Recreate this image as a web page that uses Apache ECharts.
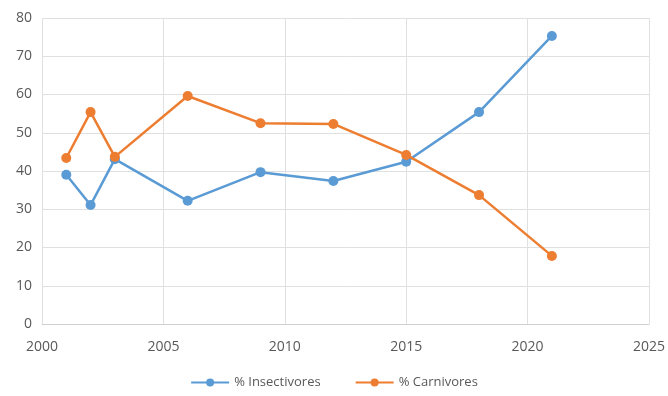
<!DOCTYPE html>
<html>
<head>
<meta charset="utf-8">
<script src="https://cdn.jsdelivr.net/npm/echarts@6/dist/echarts.min.js"></script>
<style>
html, body { margin: 0; padding: 0; background: #fff; }
#chart { width: 668px; height: 396px; }
</style>
</head>
<body>
<div id="chart"></div>
<script>
// years of each survey
const years = [2001, 2002, 2003, 2006, 2009, 2012, 2015, 2018, 2021];
const insectivores = [39.0, 31.1, 43.1, 32.2, 39.7, 37.4, 42.4, 55.4, 75.3];
const carnivores = [43.4, 55.4, 43.7, 59.6, 52.5, 52.3, 44.2, 33.7, 17.8];

const pairs = (xs, ys) => xs.map((x, i) => [x, ys[i]]);

const chart = echarts.init(document.getElementById('chart'));

const txt = { color: '#595959', fontFamily: 'Open Sans', fontSize: 14 };

chart.setOption({
  animation: false,
  grid: { left: 42, right: 16, top: 18, bottom: 72 },
  legend: {
    bottom: 2,
    left: 'center',
    itemWidth: 38,
    itemHeight: 10,
    itemGap: 34,
    textStyle: { color: '#595959', fontFamily: 'Open Sans', fontSize: 13 },
    data: ['% Insectivores', '% Carnivores']
  },
  xAxis: {
    type: 'value',
    min: 2000,
    max: 2025,
    interval: 5,
    axisLine: { show: true, lineStyle: { color: '#d0d0d0' } },
    axisTick: { show: false },
    splitLine: { show: true, lineStyle: { color: '#e0e0e0' } },
    axisLabel: { ...txt, margin: 16, formatter: v => String(v) }
  },
  yAxis: {
    type: 'value',
    min: 0,
    max: 80,
    interval: 10,
    axisLine: { show: false },
    axisTick: { show: false },
    splitLine: { show: true, lineStyle: { color: '#e0e0e0' } },
    axisLabel: { ...txt, margin: 10 }
  },
  series: [
    {
      name: '% Insectivores',
      type: 'line',
      data: pairs(years, insectivores),
      symbol: 'circle',
      symbolSize: 10,
      lineStyle: { color: '#5B9BD5', width: 2.5 },
      itemStyle: { color: '#5B9BD5' }
    },
    {
      name: '% Carnivores',
      type: 'line',
      data: pairs(years, carnivores),
      symbol: 'circle',
      symbolSize: 10,
      lineStyle: { color: '#ED7D31', width: 2.5 },
      itemStyle: { color: '#ED7D31' }
    }
  ]
});
</script>
</body>
</html>
